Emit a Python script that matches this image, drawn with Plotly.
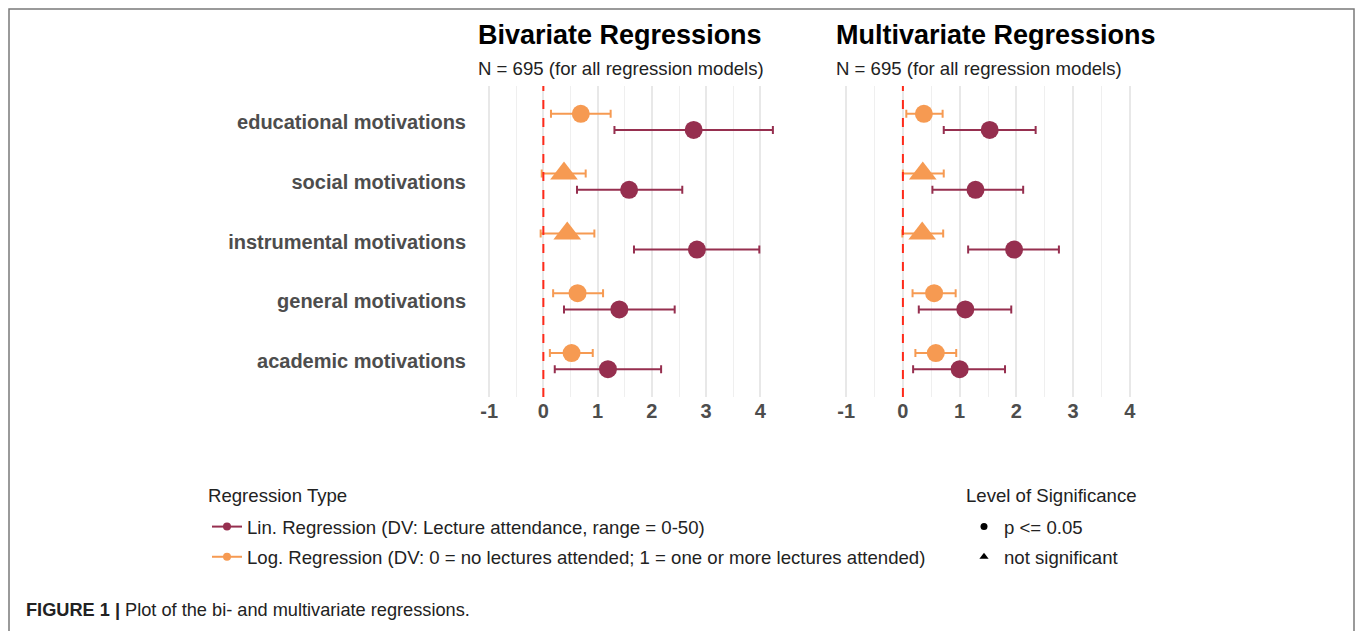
import plotly.graph_objects as go

W, H = 1357, 631

categories = ["educational motivations", "social motivations", "instrumental motivations",
              "general motivations", "academic motivations"]

# Bivariate regressions
bi_lin_est = [2.77, 1.58, 2.83, 1.40, 1.19]
bi_lin_lo = [1.31, 0.62, 1.67, 0.38, 0.21]
bi_lin_hi = [4.23, 2.56, 3.98, 2.42, 2.17]
bi_lin_sig = [True, True, True, True, True]
bi_log_est = [0.69, 0.38, 0.44, 0.63, 0.52]
bi_log_lo = [0.14, -0.03, -0.05, 0.18, 0.12]
bi_log_hi = [1.24, 0.78, 0.94, 1.10, 0.91]
bi_log_sig = [True, False, False, True, True]

# Multivariate regressions
mv_lin_est = [1.53, 1.28, 1.96, 1.10, 1.00]
mv_lin_lo = [0.72, 0.52, 1.15, 0.28, 0.18]
mv_lin_hi = [2.34, 2.12, 2.75, 1.91, 1.80]
mv_lin_sig = [True, True, True, True, True]
mv_log_est = [0.37, 0.35, 0.34, 0.55, 0.58]
mv_log_lo = [0.06, 0.00, -0.01, 0.17, 0.22]
mv_log_hi = [0.70, 0.72, 0.71, 0.93, 0.94]
mv_log_sig = [True, False, False, True, True]

x_ticks = [-1, 0, 1, 2, 3, 4]

LIN_COLOR = "#962f4f"
LOG_COLOR = "#f69a52"
LIN_NAME = "Lin. Regression (DV: Lecture attendance, range = 0-50)"
LOG_NAME = "Log. Regression (DV: 0 = no lectures attended; 1 = one or more lectures attended)"

n = len(categories)
ypos = [n - i for i in range(n)]
dodge = 0.135

fig = go.Figure()


def add_series(est, lo, hi, sig, color, shift, xa, ya):
    fig.add_trace(go.Scatter(
        x=est,
        y=[p + shift for p in ypos],
        mode="markers",
        marker=dict(color=color, opacity=1,
                    symbol=["circle" if s else "triangle-up" for s in sig],
                    size=[18 if s else 24 for s in sig],
                    line=dict(width=0)),
        error_x=dict(type="data", symmetric=False,
                     array=[h - e for h, e in zip(hi, est)],
                     arrayminus=[e - l for e, l in zip(est, lo)],
                     color=color, thickness=2, width=4),
        xaxis=xa, yaxis=ya, showlegend=False, hoverinfo="skip"))


add_series(bi_log_est, bi_log_lo, bi_log_hi, bi_log_sig, LOG_COLOR, dodge, "x", "y")
add_series(bi_lin_est, bi_lin_lo, bi_lin_hi, bi_lin_sig, LIN_COLOR, -dodge, "x", "y")
add_series(mv_log_est, mv_log_lo, mv_log_hi, mv_log_sig, LOG_COLOR, dodge, "x2", "y2")
add_series(mv_lin_est, mv_lin_lo, mv_lin_hi, mv_lin_sig, LIN_COLOR, -dodge, "x2", "y2")

# Legend entries
fig.add_trace(go.Scatter(x=[None], y=[None], mode="lines+markers", name=LIN_NAME,
                         line=dict(color=LIN_COLOR, width=2), marker=dict(color=LIN_COLOR, size=8),
                         legend="legend", legendgroup="lin"))
fig.add_trace(go.Scatter(x=[None], y=[None], mode="lines+markers", name=LOG_NAME,
                         line=dict(color=LOG_COLOR, width=2), marker=dict(color=LOG_COLOR, size=8),
                         legend="legend", legendgroup="log"))
fig.add_trace(go.Scatter(x=[None], y=[None], mode="markers", name="p <= 0.05",
                         marker=dict(color="black", symbol="circle", size=7), legend="legend2",
                         legendgroup="sig"))
fig.add_trace(go.Scatter(x=[None], y=[None], mode="markers", name="not significant",
                         marker=dict(color="black", symbol="triangle-up", size=8), legend="legend2",
                         legendgroup="ns"))

y_dom = [1 - 397 / H, 1 - 86 / H]
tick_font = dict(family="Liberation Sans", size=20, color="#4d4d4d", weight="bold")
xcommon = dict(tickvals=x_ticks, ticktext=[str(t) for t in x_ticks], showgrid=True,
               gridcolor="#e8e8e8", gridwidth=1.6, zeroline=False, showline=False, ticks="",
               tickfont=tick_font,
               minor=dict(dtick=0.5, tick0=0, showgrid=True, gridcolor="#efefef", gridwidth=1.2))

LEG_FONT = 18.6

fig.update_layout(
    width=W, height=H, autosize=False,
    margin=dict(l=0, r=0, t=0, b=0),
    paper_bgcolor="white", plot_bgcolor="white",
    font=dict(family="Liberation Sans", color="black"),
    xaxis=dict(domain=[475 / W, 787 / W], range=[-1.26, 4.49], anchor="y", **xcommon),
    xaxis2=dict(domain=[832 / W, 1144 / W], range=[-1.25, 4.25], anchor="y2", **xcommon),
    yaxis=dict(domain=y_dom, range=[0.4, n + 0.6], tickvals=ypos, ticktext=categories,
               tickfont=tick_font, showgrid=False, zeroline=False, ticks="", anchor="x",
               ticklabelstandoff=8),
    yaxis2=dict(domain=y_dom, range=[0.4, n + 0.6], tickvals=ypos, showticklabels=False,
                showgrid=False, zeroline=False, ticks="", anchor="x2"),
    legend=dict(x=207 / W, y=1 - 508 / H, xanchor="left", yanchor="top",
                font=dict(size=LEG_FONT, color="#222"), bgcolor="rgba(0,0,0,0)", itemwidth=30,
                tracegroupgap=3),
    legend2=dict(x=964 / W, y=1 - 508 / H, xanchor="left", yanchor="top",
                 font=dict(size=LEG_FONT, color="#222"), bgcolor="rgba(0,0,0,0)", itemwidth=30,
                 tracegroupgap=3),
    showlegend=True,
)

# Legend titles
for x0, ttl in ((206, "Regression Type"), (964, "Level of Significance")):
    fig.add_annotation(x=x0 / W, y=1 - 495 / H, xref="paper", yref="paper", xanchor="left",
                       yanchor="middle", showarrow=False, text=ttl,
                       font=dict(size=LEG_FONT, color="#222"))

# reference line at zero
for xa, ya in (("x", "y"), ("x2", "y2")):
    fig.add_shape(type="line", xref=xa, yref=f"{ya} domain", x0=0, x1=0, y0=0, y1=1,
                  line=dict(color="#ff2a1a", width=2, dash="dash"))

# Titles
for x0, title in ((476, "Bivariate Regressions"), (834, "Multivariate Regressions")):
    fig.add_annotation(x=x0 / W, y=1 - 35 / H, xref="paper", yref="paper", xanchor="left",
                       yanchor="middle", showarrow=False, text=f"<b>{title}</b>",
                       font=dict(size=27, color="black"))
    fig.add_annotation(x=x0 / W, y=1 - 68 / H, xref="paper", yref="paper", xanchor="left",
                       yanchor="middle", showarrow=False, text="N = 695 (for all regression models)",
                       font=dict(size=18.6, color="#222"))

# Caption
fig.add_annotation(x=24 / W, y=1 - 610 / H, xref="paper", yref="paper", xanchor="left",
                   yanchor="middle", showarrow=False,
                   text="<b>FIGURE 1 |</b> Plot of the bi- and multivariate regressions.",
                   font=dict(size=18.2, color="#222"))

# Frame
fig.add_shape(type="rect", xref="paper", yref="paper", x0=9 / W, x1=1354 / W, y0=-0.2, y1=1 - 9 / H,
              line=dict(color="#7a7a7a", width=1.5), fillcolor="rgba(0,0,0,0)", layer="below")

fig.write_html("out.html", config={"displayModeBar": False},
               post_script="document.body.style.margin='0px';")
